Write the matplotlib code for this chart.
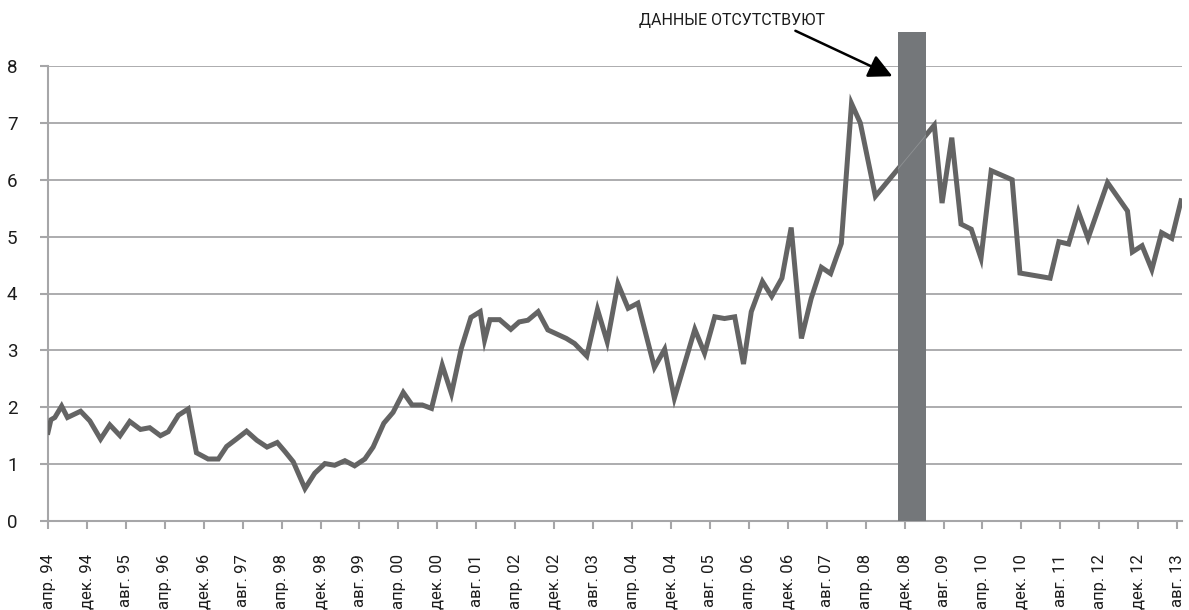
import matplotlib
matplotlib.use("Agg")
import matplotlib.pyplot as plt

# ---- data ----
# x: months since April 1994
months = [0, 0.6, 1.4, 2.8, 4, 6.7, 8.6, 10.8, 12.7, 14.8, 16.8, 19, 20.9, 23.1, 24.7,
          26.8, 28.8, 30.5, 32.9, 35, 36.7, 38.7, 40.8, 42.9, 45, 47.1, 48.7, 50.4, 52.8,
          54.8, 56.9, 58.9, 61, 63, 65.1, 66.8, 69, 70.9, 73, 74.8, 76.9, 78.8, 81, 82.9,
          84.9, 86.9, 88.8, 89.7, 90.8, 92.8, 95.1, 96.8, 98.6, 100.7, 102.7, 106.5, 108.2,
          110.7, 112.9, 114.9, 117.1, 119.2, 121.2, 124.6, 126.7, 128.7, 132.9, 134.9, 137,
          139, 141.1, 142.9, 144.5, 146.8, 148.7, 150.8, 152.7, 154.8, 156.8, 158.9, 160.8,
          163, 165.1, 166.9, 170, 182.1, 183.7, 185.7, 187.6, 189.7, 191.7, 193.8, 198.1,
          199.7, 205.9, 207.7, 209.7, 211.7, 213.7, 217.7, 221.8, 222.8, 224.8, 226.8,
          228.8, 230.9, 232.8]
values = [1.56, 1.78, 1.82, 2.02, 1.82, 1.93, 1.76, 1.44, 1.69, 1.50, 1.75, 1.61, 1.64, 1.50,
          1.57, 1.86, 1.97, 1.20, 1.09, 1.09, 1.31, 1.44, 1.58, 1.42, 1.30, 1.38, 1.22, 1.04,
          0.57, 0.84, 1.01, 0.98, 1.06, 0.97, 1.09, 1.30, 1.72, 1.91, 2.26, 2.04, 2.04, 1.98,
          2.74, 2.24, 3.03, 3.58, 3.68, 3.18, 3.54, 3.54, 3.37, 3.50, 3.53, 3.68, 3.36, 3.21,
          3.12, 2.90, 3.72, 3.15, 4.17, 3.74, 3.83, 2.70, 3.02, 2.16, 3.37, 2.95, 3.59, 3.56,
          3.59, 2.76, 3.68, 4.21, 3.95, 4.27, 5.16, 3.21, 3.91, 4.46, 4.35, 4.88, 7.34, 7.00,
          5.71, 6.96, 5.59, 6.74, 5.22, 5.13, 4.62, 6.16, 6.00, 4.36, 4.27, 4.91, 4.87, 5.44,
          4.97, 5.95, 5.45, 4.73, 4.84, 4.42, 5.07, 4.97, 5.63]

tick_months = list(range(0, 233, 8))
tick_labels = ["апр. 94", "дек. 94", "авг. 95", "апр. 96", "дек. 96", "авг. 97", "апр. 98",
               "дек. 98", "авг. 99", "апр. 00", "дек. 00", "авг. 01", "апр. 02", "дек. 02",
               "авг. 03", "апр. 04", "дек. 04", "авг. 05", "апр. 06", "дек. 06", "авг. 07",
               "апр. 08", "дек. 08", "авг. 09", "апр. 10", "дек. 10", "авг. 11", "апр. 12",
               "дек. 12", "авг. 13"]
y_ticks = [0, 1, 2, 3, 4, 5, 6, 7, 8]

gap_start, gap_end = 174.7, 180.5   # months with missing data
gap_label = "ДАННЫЕ ОТСУТСТВУЮТ"

# ---- style ----
plt.rcParams['font.family'] = ['Roboto', 'DejaVu Sans']
LINE = '#646464'
GRID = '#a6a6a8'
BAR = '#74777a'
TEXT = '#1c1c1c'

W, H = 1189, 610
fig = plt.figure(figsize=(W / 100, H / 100), dpi=100)
ax = fig.add_axes([48 / W, (H - 521) / H, (1182 - 48) / W, (521 - 66) / H])

ax.set_xlim(0, 233)
ax.set_ylim(0, 8)

ax.plot(months, values, color=LINE, lw=3.6, solid_joinstyle='miter', zorder=3)

bar = ax.axvspan(gap_start, gap_end, ymin=0, ymax=8.6 / 8, color=BAR, lw=0,
                 clip_on=False, zorder=4)
thin, = ax.plot(months, values, color='#8f9294', lw=0.6, zorder=5)
thin.set_clip_path(bar)

ax.set_yticks(y_ticks)
ax.set_xticks(tick_months)
ax.set_xticklabels(tick_labels, rotation=90, va='top', ha='center')
ax.grid(axis='y', color=GRID, lw=1.3, zorder=1)
ax.set_axisbelow(True)

for s in ['top', 'right']:
    ax.spines[s].set_visible(False)
for s in ['left', 'bottom']:
    ax.spines[s].set_color(GRID)
    ax.spines[s].set_linewidth(1.5)

ax.tick_params(axis='both', colors=GRID, width=1.5, length=6, labelcolor=TEXT)
ax.tick_params(axis='y', pad=16, labelsize=13.5)
ax.tick_params(axis='x', pad=18, labelsize=12)

ax.annotate(gap_label, xy=(173.5, 7.82), xytext=(140.5, 8.8),
            ha='center', va='center', fontsize=11.5, color=TEXT,
            annotation_clip=False,
            arrowprops=dict(arrowstyle='-|>,head_length=0.9,head_width=0.45',
                            color='black', lw=1.8, relpos=(0.81, 0.0),
                            shrinkA=0, shrinkB=0, mutation_scale=16))

fig.savefig('out.png', dpi=100)
